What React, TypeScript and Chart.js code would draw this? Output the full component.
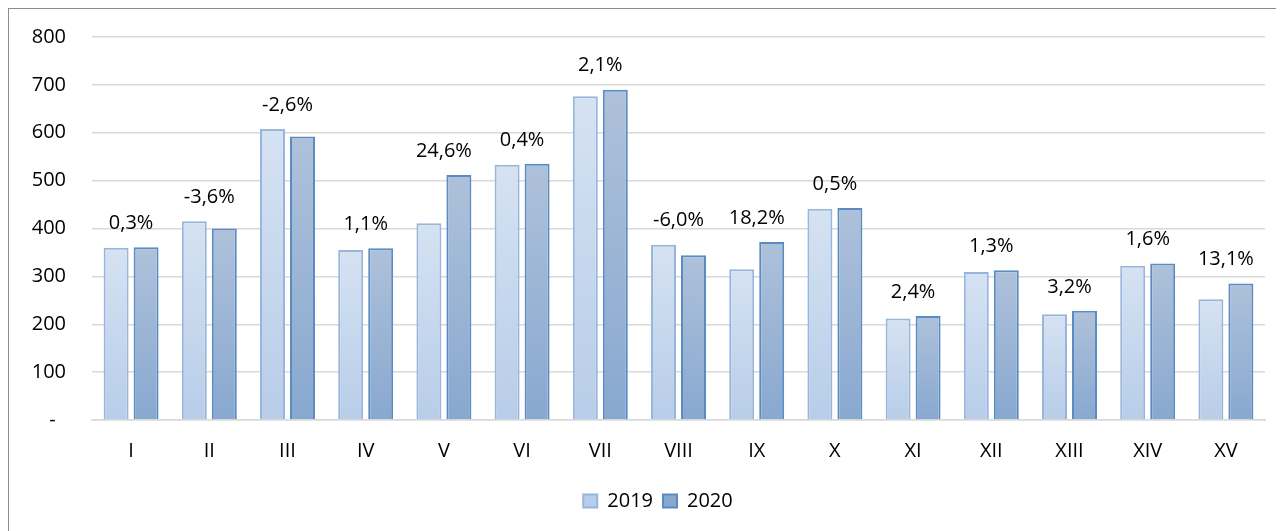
import React, { useEffect, useRef } from "react";
import { Chart, registerables } from "chart.js";

Chart.register(...registerables);

const categories = ["I", "II", "III", "IV", "V", "VI", "VII", "VIII", "IX", "X", "XI", "XII", "XIII", "XIV", "XV"];
const values2019 = [360, 415, 608, 355, 411, 533, 676, 366, 315, 441, 212, 309, 221, 322, 252];
const values2020 = [361, 400, 592, 359, 512, 535, 690, 344, 372, 443, 217, 313, 228, 327, 285];
const changeLabels = ["0,3%", "-3,6%", "-2,6%", "1,1%", "24,6%", "0,4%", "2,1%", "-6,0%", "18,2%", "0,5%", "2,4%", "1,3%", "3,2%", "1,6%", "13,1%"];
const yTicks = [0, 100, 200, 300, 400, 500, 600, 700, 800];

const FONT = "'Open Sans', 'Noto Sans', sans-serif";
const FS = 20;

function gradientFill(top: string, bottom: string, solid: string) {
  return (ctx: any) => {
    const chart = ctx.chart;
    const y = chart.scales && chart.scales.y;
    if (ctx.type !== "data" || !y) return solid;
    const t = y.getPixelForValue(ctx.raw);
    const b = y.getPixelForValue(0);
    if (!isFinite(t) || !isFinite(b) || t === b) return solid;
    const g = chart.ctx.createLinearGradient(0, t, 0, b);
    g.addColorStop(0, top);
    g.addColorStop(1, bottom);
    return g;
  };
}

const pctLabelPlugin = {
  id: "pctLabels",
  afterDatasetsDraw(chart: any) {
    const { ctx, scales } = chart;
    ctx.save();
    ctx.font = `${FS}px ${FONT}`;
    ctx.fillStyle = "#000";
    ctx.textAlign = "center";
    ctx.textBaseline = "middle";
    categories.forEach((_, i) => {
      const x = scales.x.getPixelForValue(i);
      const top = scales.y.getPixelForValue(Math.max(values2019[i], values2020[i]));
      ctx.fillText(changeLabels[i], x, top - 24);
    });
    ctx.restore();
  },
};

const legendShiftPlugin = {
  id: "legendShift",
  afterLayout(chart: any) {
    const lg = chart.legend;
    if (lg) {
      lg.left += 21;
      lg.right += 21;
    }
  },
};

export default function App() {
  const ref = useRef<HTMLCanvasElement | null>(null);
  useEffect(() => {
    if (!ref.current) return;
    const chart = new Chart(ref.current, {
      type: "bar",
      data: {
        labels: categories,
        datasets: [
          {
            label: "2019",
            data: values2019,
            backgroundColor: gradientFill("#d5e2f2", "#b8cde9", "#c9d9ee"),
            borderColor: "#98b6dc",
            borderWidth: 2,
            categoryPercentage: 0.767,
            barPercentage: 0.833,
          },
          {
            label: "2020",
            data: values2020,
            backgroundColor: gradientFill("#aec1da", "#88a8d0", "#9fb6d6"),
            borderColor: "#5a8bc1",
            borderWidth: 2,
            categoryPercentage: 0.767,
            barPercentage: 0.833,
          },
        ],
      },
      options: {
        responsive: false,
        animation: false,
        devicePixelRatio: 1,
        layout: { padding: { top: 28, right: 19, left: 0, bottom: 10 } },
        font: { family: FONT, size: FS },
        scales: {
          x: {
            grid: { display: false, drawTicks: false },
            border: { display: true, color: "#d9d9d9", width: 1.5 },
            ticks: { color: "#000", font: { family: FONT, size: FS }, padding: 19, maxRotation: 0 },
            afterFit: (s: any) => {
              s.height = s.height - 1;
            },
          },
          y: {
            min: 0,
            max: 800,
            afterBuildTicks: (s: any) => {
              s.ticks = yTicks.map((v) => ({ value: v }));
            },
            afterFit: (s: any) => {
              s.width = 83;
              s.paddingTop = 0;
              s.paddingBottom = 0;
            },
            grid: { color: "#d9d9d9", lineWidth: 1.5, drawTicks: false },
            border: { display: false },
            ticks: {
              color: "#000",
              padding: 26,
              font: { family: FONT, size: FS },
              callback: (v: any) => (Number(v) === 0 ? "-  " : String(v)),
            },
          },
        },
        plugins: {
          legend: {
            position: "bottom",
            labels: {
              color: "#000",
              font: { family: FONT, size: FS },
              boxWidth: 14,
              boxHeight: 13,
              padding: 10,
            },
          },
          tooltip: { enabled: false },
          title: { display: false },
        },
      },
      plugins: [pctLabelPlugin, legendShiftPlugin],
    } as any);
    return () => chart.destroy();
  }, []);

  return (
    <div
      style={{
        position: "relative",
        width: 1275,
        height: 522,
        borderLeft: "1px solid #8c8c8c",
        borderTop: "1px solid #8c8c8c",
        background: "#fff",
      }}
    >
      <canvas ref={ref} width={1275} height={522} style={{ display: "block", width: 1275, height: 522 }} />
    </div>
  );
}
